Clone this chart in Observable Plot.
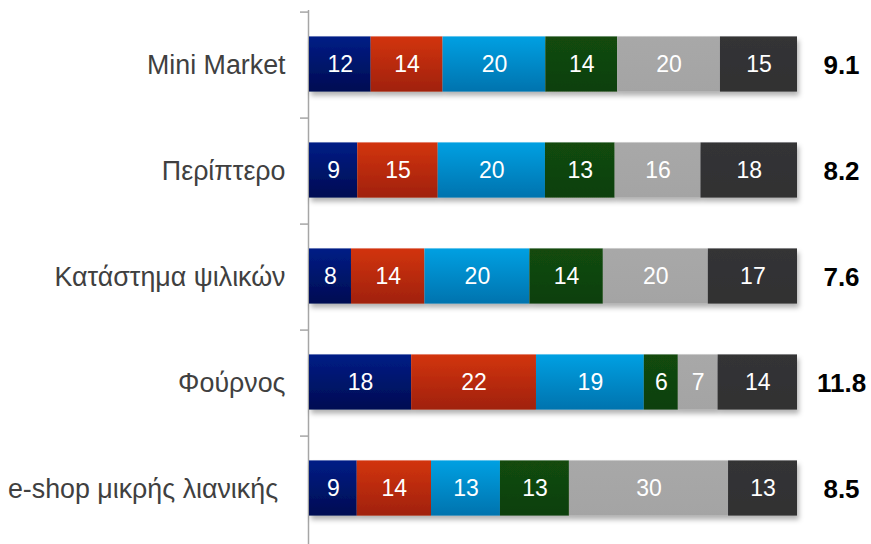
<!DOCTYPE html>
<html>
<head>
<meta charset="utf-8">
<script src="https://cdn.jsdelivr.net/npm/d3@7"></script>
<script src="https://cdn.jsdelivr.net/npm/@observablehq/plot@0.6"></script>
<style>
  html, body { margin: 0; padding: 0; background: #fff; }
  #chart svg { font-family: "Liberation Sans", Arial, sans-serif; }
</style>
</head>
<body>
<div id="chart"></div>
<script>
const categories = ["Mini Market", "Περίπτερο", "Κατάστημα ψιλικών", "Φούρνος", "e-shop μικρής λιανικής\u00a0"];
const series = ["s1", "s2", "s3", "s4", "s5", "s6"];
const values = [
  [12, 14, 20, 14, 20, 15],
  [9, 15, 20, 13, 16, 18],
  [8, 14, 20, 14, 20, 17],
  [18, 22, 19, 6, 7, 14],
  [9, 14, 13, 13, 30, 13]
];
const scores = [9.1, 8.2, 7.6, 11.8, 8.5];
const gradients = [
  ["#001d86", "#000c52"],
  ["#d2340f", "#a02108"],
  ["#00a0e2", "#0073ae"],
  ["#124a0e", "#0f400b"],
  ["#a8a8a8", "#a4a4a4"],
  ["#343436", "#303032"]
];

const data = [];
categories.forEach((c, i) => series.forEach((s, j) => data.push({cat: c, series: s, value: values[i][j]})));
const scoreData = categories.map((c, i) => ({cat: c, score: scores[i]}));

const W = 871, H = 544, ML = 309, MR = 74, MT = 10, MB = 0;
const bandH = (H - MT - MB) / categories.length;
const barH = 56;
const inset = (bandH - barH) / 2;
const tickLen = 8 / (W - ML - MR);

const plot = Plot.plot({
  width: W, height: H,
  marginLeft: ML, marginRight: MR, marginTop: MT, marginBottom: MB,
  x: {domain: [0, 1], axis: null},
  y: {domain: categories, padding: 0, axis: null},
  color: {domain: series, range: series.map((s, i) => `url(#grad${i})`)},
  marks: [
    Plot.ruleX([0], {stroke: "#a6a6a6", strokeWidth: 1.5, dx: -1}),
    Plot.ruleY(categories, {y: d => d, x1: -tickLen, x2: 0, dx: -1, dy: -bandH / 2, stroke: "#a6a6a6", strokeWidth: 1.5}),
    Plot.barX(data, Plot.stackX({x: "value", y: "cat", z: "series", fill: "series", offset: "normalize", insetTop: inset - 1, insetBottom: inset + 1})),
    Plot.text(data, Plot.stackX({x: "value", y: "cat", z: "series", offset: "normalize", text: d => String(d.value), fill: "white", fontSize: 23, dy: -1})),
    Plot.axisY({tickSize: 0, tickPadding: 24, fontSize: 26.8, color: "#404040", textAnchor: "end", label: null}),
    Plot.text(scoreData, {y: "cat", text: d => d.score.toFixed(1), frameAnchor: "right", dx: 44, textAnchor: "middle", fontSize: 26, fontWeight: "bold", fill: "#000"})
  ]
});

const svg = d3.select(plot);
const defs = svg.insert("defs", ":first-child");
gradients.forEach((g, i) => {
  const lg = defs.append("linearGradient").attr("id", `grad${i}`).attr("x1", 0).attr("y1", 0).attr("x2", 0).attr("y2", 1);
  lg.append("stop").attr("offset", "0%").attr("stop-color", g[0]);
  lg.append("stop").attr("offset", "100%").attr("stop-color", g[1]);
});
const f = defs.append("filter").attr("id", "shadow").attr("x", "-5%").attr("y", "-20%").attr("width", "115%").attr("height", "160%");
f.append("feDropShadow").attr("dx", 2).attr("dy", 4).attr("stdDeviation", 2.5).attr("flood-color", "#000").attr("flood-opacity", 0.3);
svg.selectAll('g[aria-label="bar"]').attr("filter", "url(#shadow)");

document.getElementById("chart").appendChild(plot);
</script>
</body>
</html>
